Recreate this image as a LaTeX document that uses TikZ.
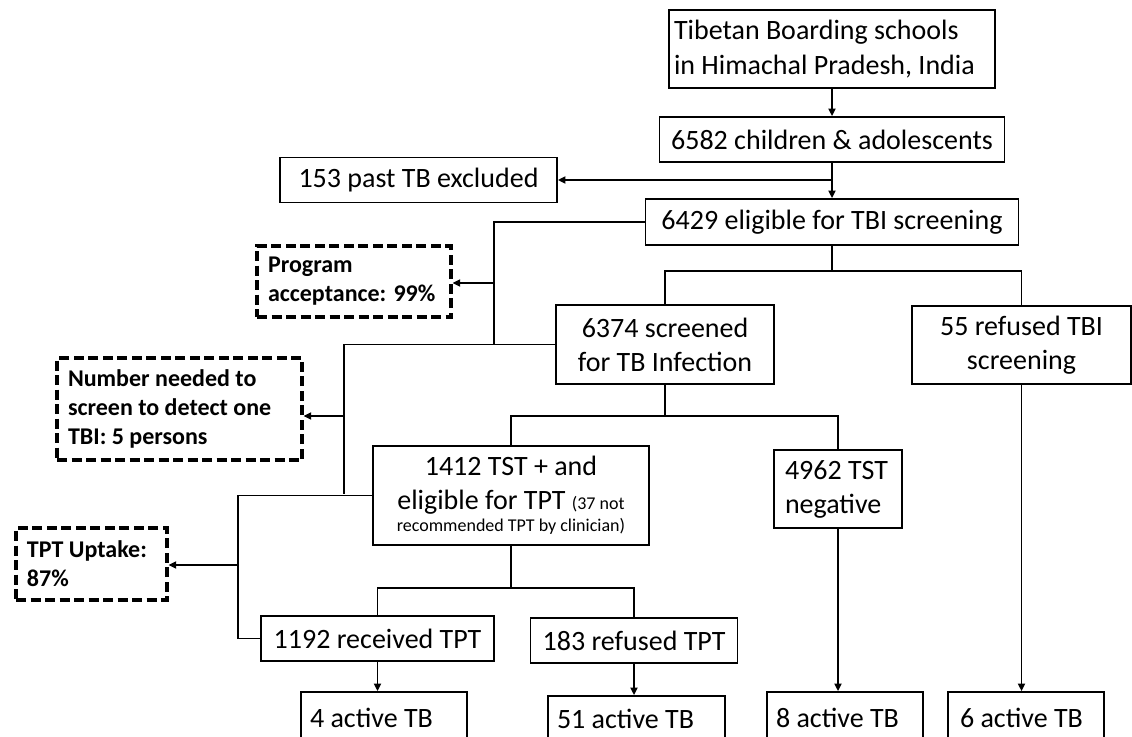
\documentclass[tikz,border=0pt]{standalone}
\usepackage{fontspec}
\setmainfont{Carlito}
\usetikzlibrary{arrows.meta}
\begin{document}
\begin{tikzpicture}[x=1pt,y=-1pt,
  box/.style={draw,line width=1.8pt,inner sep=0pt,align=center,font=\fontsize{28}{34}\selectfont},
  lbox/.style={box,align=flush left},
  dbox/.style={draw,line width=3.2pt,dash pattern=on 10pt off 4.5pt,inner ysep=0pt,inner xsep=11pt,align=flush left,font=\fontsize{24}{29}\selectfont\bfseries},
  conn/.style={line width=1.7pt},
  arr/.style={conn,-{Triangle[length=7.5pt,width=7pt]}}]
\fill[white] (0,0) rectangle (1132,736);
\path[use as bounding box] (0,0) rectangle (1132,736);
\clip (0,0) rectangle (1132,736);

% main boxes
\node[lbox,font=\fontsize{28}{35}\selectfont,inner xsep=5pt,text width=316pt,minimum height=78pt] (top) at (832,49) {Tibetan Boarding schools\\in Himachal Pradesh, India};
\node[box,minimum width=345pt,minimum height=45pt] (b2) at (832,139.5) {6582 children \& adolescents};
\node[box,minimum width=277pt,minimum height=45pt] (b153) at (418.5,180) {153 past TB excluded};
\node[box,minimum width=373pt,minimum height=46pt] (b6429) at (832,222) {6429 eligible for TBI screening};
\node[box,minimum width=218pt,minimum height=79pt] (b6374) at (665,344.5) {6374 screened\\for TB Infection};
\node[box,minimum width=219pt,minimum height=78pt] (b55) at (1021.5,345) {55 refused TBI\\screening};
\node[box,minimum width=276pt,minimum height=99pt] (b1412) at (511,495.5) {1412 TST + and\\eligible for TPT {\fontsize{18}{22}\selectfont(37 not}\\[-12pt]{\fontsize{18}{22}\selectfont recommended TPT by clinician)}};
\node[lbox,inner xsep=11pt,text width=106pt,minimum height=78pt] (b4962) at (838,489) {4962 TST\\negative};
\node[box,minimum width=233pt,minimum height=45pt] (b1192) at (377.5,638.5) {1192 received TPT};
\node[box,minimum width=207pt,minimum height=45pt] (b183) at (634,640.5) {183 refused TPT};

% outcome boxes
\node[lbox,inner xsep=9pt,text width=148pt,minimum height=52pt] (a4) at (384,718) {4 active TB};
\node[lbox,inner xsep=9pt,text width=159pt,minimum height=46pt] (a51) at (636.5,719) {51 active TB};
\node[lbox,inner xsep=9pt,text width=138pt,minimum height=52pt] (a8) at (845,718) {8 active TB};
\node[lbox,inner xsep=12pt,text width=132pt,minimum height=52pt] (a6) at (1026,718) {6 active TB};

% dashed indicator boxes
\node[dbox,text width=172pt,minimum height=71pt] (pa) at (354,281.5) {\mbox{Program}\\\mbox{acceptance: 99\%}};
\node[dbox,text width=223pt,minimum height=102pt] (nn) at (179.5,409) {\mbox{Number needed to}\\\mbox{screen to detect one}\\\mbox{TBI: 5 persons}};
\node[dbox,text width=129pt,minimum height=72pt] (tpt) at (91.5,564) {\mbox{TPT Uptake:}\\\mbox{87\%}};

% vertical flow
\draw[arr] (top.south) -- (top.south |- b2.north);
\draw[arr] (b2.south) -- (b2.south |- b6429.north);
\coordinate (j1) at (832,180);
\draw[arr] (j1) -- (b153.east |- j1);

% indicator brackets
\coordinate (c1) at (494,344.5);
\coordinate (c1a) at (494,283);
\draw[conn] (b6429.west) -| (c1);
\draw[arr] (c1a) -- (pa.east |- c1a);

\coordinate (c2) at (344,494);
\coordinate (c2a) at (344,416);
\draw[conn] (b6374.west) -| (c2);
\draw[arr] (c2a) -- (nn.east |- c2a);

\coordinate (c3) at (238,638.5);
\coordinate (c3a) at (238,565);
\draw[conn] (b1412.west) -| (c3) -- (b1192.west);
\draw[arr] (c3a) -- (tpt.east |- c3a);

% tree splits
\coordinate (t1) at (832,271);
\draw[conn] (b6429.south) -- (t1);
\draw[conn] (b6374.north) |- (t1) -| (b55.north);

\coordinate (t2) at (665,416);
\draw[conn] (b6374.south) -- (t2);
\draw[conn] (b1412.north) |- (t2) -| (b4962.north);

\coordinate (t3) at (511,588);
\draw[conn] (b1412.south) -- (t3);
\draw[conn] (b1192.north) |- (t3) -| (b183.north);

% outcomes
\draw[arr] (b1192.south) -- (b1192.south |- a4.north);
\draw[arr] (b183.south) -- (b183.south |- a51.north);
\draw[arr] (b4962.south) -- (b4962.south |- a8.north);
\draw[arr] (b55.south) -- (b55.south |- a6.north);
\end{tikzpicture}
\end{document}
